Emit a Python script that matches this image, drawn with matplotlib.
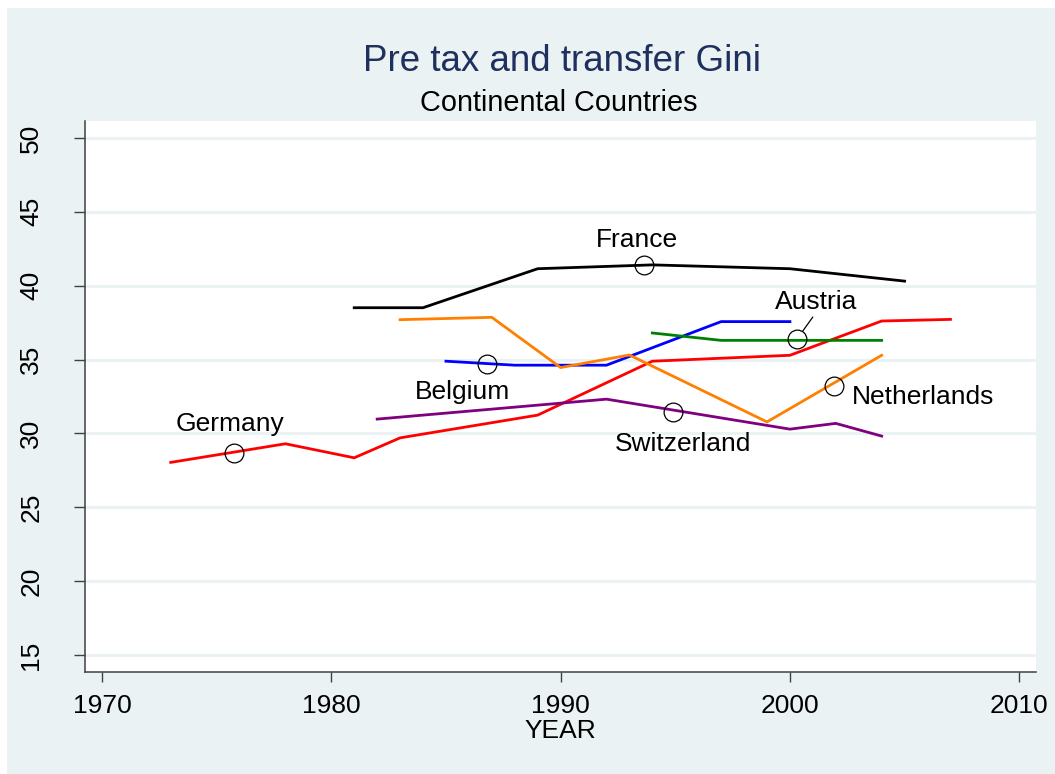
import matplotlib
matplotlib.use("Agg")
import matplotlib.pyplot as plt
from matplotlib.patches import Rectangle

plt.rcParams['font.family'] = ['Liberation Sans', 'DejaVu Sans']

# data
germany_yr = [1973, 1978, 1981, 1983, 1989, 1994, 2000, 2004, 2007]
germany_gini = [28.04, 29.30, 28.35, 29.70, 31.24, 34.89, 35.29, 37.61, 37.72]

france_yr = [1981, 1984, 1989, 1994, 2000, 2005]
france_gini = [38.51, 38.51, 41.15, 41.41, 41.15, 40.31]

belgium_yr = [1985, 1988, 1992, 1997, 2000]
belgium_gini = [34.89, 34.62, 34.62, 37.57, 37.57]

netherlands_yr = [1983, 1987, 1990, 1993, 1999, 2004]
netherlands_gini = [37.70, 37.86, 34.46, 35.31, 30.78, 35.29]

switzerland_yr = [1982, 1992, 2000, 2002, 2004]
switzerland_gini = [30.97, 32.32, 30.29, 30.68, 29.82]

austria_yr = [1994, 1997, 2004]
austria_gini = [36.80, 36.30, 36.30]

# label markers (hollow circles) per country
label_names = ['Germany', 'France', 'Belgium', 'Switzerland', 'Netherlands', 'Austria']
label_yr = [1975.76, 1993.64, 1986.79, 1994.9, 2001.9, 2000.3]
label_gini = [28.69, 41.38, 34.68, 31.42, 33.2, 36.37]

yticks = [15, 20, 25, 30, 35, 40, 45, 50]
xticks = [1970, 1980, 1990, 2000, 2010]

bg = '#EAF2F3'

fig = plt.figure(figsize=(10.55, 7.74), dpi=100, facecolor='white')
fig.patches.append(Rectangle((7 / 1055, 0), 1, 1 - 8 / 774, transform=fig.transFigure,
                             facecolor=bg, edgecolor='none', zorder=-10))

ax = fig.add_axes([85 / 1055, 1 - 672 / 774, (1036 - 85) / 1055, (672 - 121) / 774])
ax.set_facecolor('white')
ax.set_zorder(1)

series = [
    (germany_yr, germany_gini, '#FF0000'),
    (france_yr, france_gini, '#000000'),
    (belgium_yr, belgium_gini, '#0000FF'),
    (netherlands_yr, netherlands_gini, '#FF8000'),
    (switzerland_yr, switzerland_gini, '#800080'),
    (austria_yr, austria_gini, '#008000'),
]
for xs, ys, c in series:
    ax.plot(xs, ys, color=c, lw=2.0, zorder=3, solid_joinstyle='miter')

ax.plot(label_yr, label_gini, ls='none', marker='o', ms=13.5, mfc='none',
        mec='black', mew=0.9, zorder=4)

# label offsets in pixels (dx, dy), converted to points
offsets = {
    'Germany': (-4.5, 21.3, 'center'),
    'France': (-7, 18, 'center'),
    'Belgium': (-25, -35, 'center'),
    'Switzerland': (9.7, -38.4, 'center'),
    'Netherlands': (18.4, -18.3, 'left'),
    'Austria': (19, 30.7, 'center'),
}
for name, x, y in zip(label_names, label_yr, label_gini):
    dx, dy, ha = offsets[name]
    ax.annotate(name, (x, y), xytext=(dx * 0.72, dy * 0.72), textcoords='offset points',
                ha=ha, va='baseline', fontsize=19, zorder=5)

# leader line for Austria
i = label_names.index('Austria')
ax.annotate('', (label_yr[i], label_gini[i]), xytext=(16 * 0.72, 22.3 * 0.72),
            textcoords='offset points',
            arrowprops=dict(arrowstyle='-', color='black', lw=0.9, shrinkA=0, shrinkB=7))

ax.set_xlim(1969.26, 2010.73)
ax.set_ylim(13.85, 51.15)
ax.set_xticks(xticks)
ax.set_yticks(yticks)
ax.set_yticklabels([str(v) for v in yticks], rotation=90, va='center')
ax.grid(axis='y', color=bg, lw=2.2, zorder=1)
ax.set_axisbelow(True)

for s in ['top', 'right']:
    ax.spines[s].set_visible(False)
for s in ['left', 'bottom']:
    ax.spines[s].set_color('#404040')
    ax.spines[s].set_linewidth(1.1)

ax.tick_params(axis='x', length=7.5, width=1.0, color='#404040', labelsize=19, pad=8)
ax.tick_params(axis='y', length=8, width=1.0, color='#404040', labelsize=19, pad=22)

ax.set_xlabel('YEAR', fontsize=19, labelpad=1)

fig.text(562 / 1055, 1 - 71 / 774, 'Pre tax and transfer Gini', ha='center', va='baseline',
         fontsize=26.5, color='#1f2f5e')
fig.text(559 / 1055, 1 - 111 / 774, 'Continental Countries', ha='center', va='baseline',
         fontsize=20.8, color='black')

fig.savefig('out.png', dpi=100, facecolor=fig.get_facecolor())
